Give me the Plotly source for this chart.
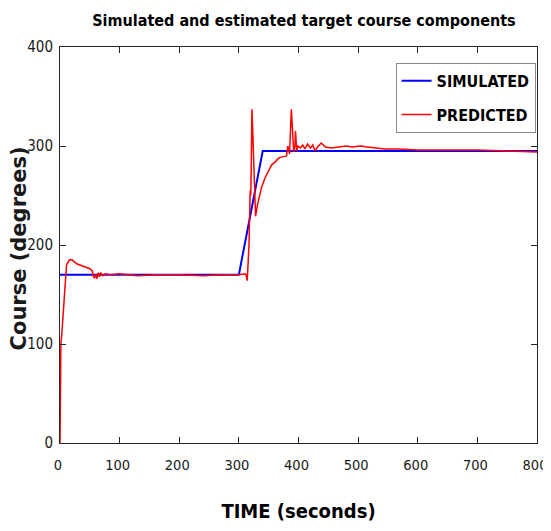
import plotly.graph_objects as go

# Simulated course (degrees)
sim_time = [0, 300, 340, 800]
sim_course = [170, 170, 295, 295]

# Predicted course (degrees)
pred_time = [0, 1.5, 3, 5, 8, 11, 16, 20, 28, 40, 50, 54, 56, 58, 60, 62, 64, 66, 68, 72,
             76, 85, 100, 130, 160, 200, 240, 270, 300, 310, 312, 314, 317, 319, 320, 322,
             325, 328, 331, 333, 338, 344, 350, 355, 361, 367, 373, 378, 380, 382, 385,
             388, 390, 392, 394, 395, 397, 399, 403, 407, 411, 415, 420, 424, 428, 432,
             438, 445, 455, 465, 472, 480, 490, 505, 515, 528, 545, 570, 600, 650, 700,
             750, 800]
pred_course = [0, 100, 110, 130, 162, 180, 185, 185, 181, 178, 176, 174, 168, 167, 170, 166,
               172, 168, 172, 169, 171, 170, 171, 169, 170, 170, 169, 170, 170, 171, 170,
               164, 200, 255, 250, 337, 270, 229, 240, 246, 258, 268, 276, 281, 284, 288,
               289, 290, 290, 300, 292, 337, 310, 294, 300, 315, 295, 300, 298, 301, 297,
               302, 298, 301, 295, 299, 303, 299, 298, 299, 299, 300, 299, 300, 299, 298,
               297, 297, 296, 296, 296, 295, 294]

FONT = "DejaVu Sans Condensed, Liberation Sans, sans-serif"

fig = go.Figure()
fig.add_trace(go.Scatter(x=sim_time, y=sim_course, mode='lines', name='<b>SIMULATED</b>',
                         legendgroup='a', line=dict(color='#0000FF', width=2)))
fig.add_trace(go.Scatter(x=pred_time, y=pred_course, mode='lines', name='<b>PREDICTED</b>',
                         legendgroup='b', line=dict(color='#FF0000', width=1.5)))

# y title as an annotation so it can sit close to the tick labels
fig.add_annotation(text="<b>Course (degrees)</b>", xref='paper', yref='paper',
                   x=-0.087, y=0.49, xanchor='center', yanchor='middle',
                   textangle=-90, showarrow=False,
                   font=dict(family="DejaVu Sans, sans-serif", size=21, color='#1a1a1a'))

# page body adds an 8px offset; keep the page inside the window (no scrollbar)
fig.update_layout(
    width=543, height=515,
    paper_bgcolor='white', plot_bgcolor='white',
    margin=dict(l=52, r=14, t=39, b=80),
    font=dict(family=FONT, color='#1a1a1a', size=18),
    title=dict(text="<b>Simulated and estimated target course components</b>",
               x=0.545, xanchor='center', y=0.975, yanchor='middle',
               font=dict(family=FONT, size=16, color='black')),
    showlegend=True,
    legend=dict(x=0.997, xanchor='right', y=0.96, yanchor='top',
                bgcolor='white', bordercolor='#888888', borderwidth=1,
                font=dict(family=FONT, size=16, color='black'),
                itemwidth=30, traceorder='grouped', tracegroupgap=10),
    xaxis=dict(range=[0, 800], tickvals=[0, 100, 200, 300, 400, 500, 600, 700, 800],
               ticks='inside', ticklen=6, tickcolor='#262626', mirror='ticks',
               showline=True, linecolor='#262626', linewidth=1, showgrid=False,
               zeroline=False, automargin=False, ticklabeloverflow='allow',
               ticklabelstandoff=9, ticklabelshift=-2,
               tickfont=dict(size=14.5, color='#1a1a1a'),
               title=dict(text="<b>TIME (seconds)</b>", standoff=37,
                          font=dict(family=FONT, size=20, color='black'))),
    yaxis=dict(range=[0, 400], tickvals=[0, 100, 200, 300, 400],
               ticks='inside', ticklen=6, tickcolor='#262626', mirror='ticks',
               showline=True, linecolor='#262626', linewidth=1, showgrid=False,
               zeroline=False, automargin=False, ticklabeloverflow='allow',
               ticklabelstandoff=3,
               tickfont=dict(size=15, color='#1a1a1a')),
)

fig.write_html("out.html")
